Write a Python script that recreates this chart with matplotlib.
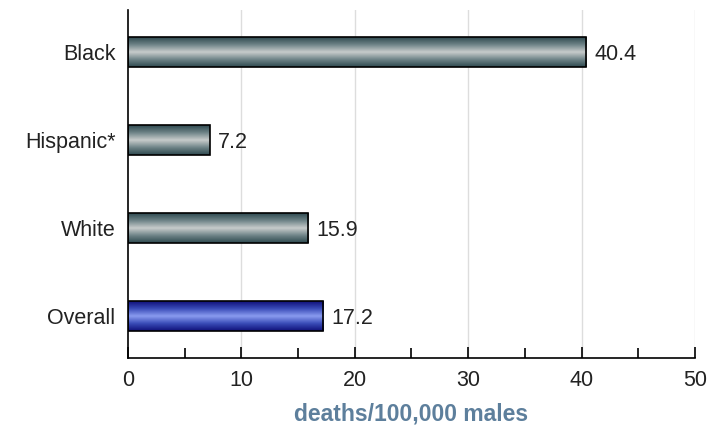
import numpy as np
import matplotlib
matplotlib.use("Agg")
import matplotlib.pyplot as plt
from matplotlib.colors import LinearSegmentedColormap

categories = ["Overall", "White", "Hispanic*", "Black"]
values = [17.2, 15.9, 7.2, 40.4]
labels = ["17.2", "15.9", "7.2", "40.4"]

plt.rcParams["font.family"] = ["Liberation Sans", "DejaVu Sans"]

fig = plt.figure(figsize=(7.11, 4.28), dpi=100)
ax = fig.add_axes([0.18, 0.1636, 0.7975, 0.813])

gray = LinearSegmentedColormap.from_list("g", ["#2f4a50", "#6f8488", "#c8cccc", "#6f8488", "#2f4a50"])
blue = LinearSegmentedColormap.from_list("b", ["#10107a", "#3a4cb8", "#8a9cf0", "#3a4cb8", "#10107a"])
grad = np.linspace(0, 1, 64).reshape(-1, 1)

ypos = np.arange(len(categories))
bars = ax.barh(ypos, values, height=0.34, facecolor="none", edgecolor="black", linewidth=1.2, zorder=3)
for i, b in enumerate(bars):
    cmap = blue if categories[i] == "Overall" else gray
    x0, y0 = b.get_x(), b.get_y()
    im = ax.imshow(grad, cmap=cmap, aspect="auto", zorder=2,
                   extent=[x0, x0 + b.get_width(), y0, y0 + b.get_height()])
    im.set_clip_path(b)
    ax.text(values[i] + 0.75, ypos[i] - 0.03, labels[i], va="center", ha="left", fontsize=15.5, color="#222222")

ax.set_xlim(0, 50)
ax.set_ylim(-0.48, 3.48)
ax.set_yticks(ypos)
ax.set_yticklabels(categories, fontsize=15.5, color="#222222")
ax.set_xticks([0, 10, 20, 30, 40, 50])
ax.set_xticks([5, 15, 25, 35, 45], minor=True)
ax.tick_params(axis="x", direction="in", length=8, width=1.2, labelsize=15.5, labelcolor="#222222", pad=9)
ax.tick_params(axis="x", which="minor", direction="in", length=7, width=1.2)
ax.tick_params(axis="y", length=0, pad=9)
for x in [10, 20, 30, 40, 50]:
    ax.axvline(x, color="#dddddd", linewidth=1, zorder=0)
for s in ["top", "right"]:
    ax.spines[s].set_visible(False)
ax.spines["left"].set_linewidth(1.2)
ax.spines["bottom"].set_linewidth(1.2)
ax.set_xlabel("deaths/100,000 males", fontsize=16.5, fontweight="bold", color="#5d7f9c", labelpad=8)

fig.savefig("out.png", dpi=100)
